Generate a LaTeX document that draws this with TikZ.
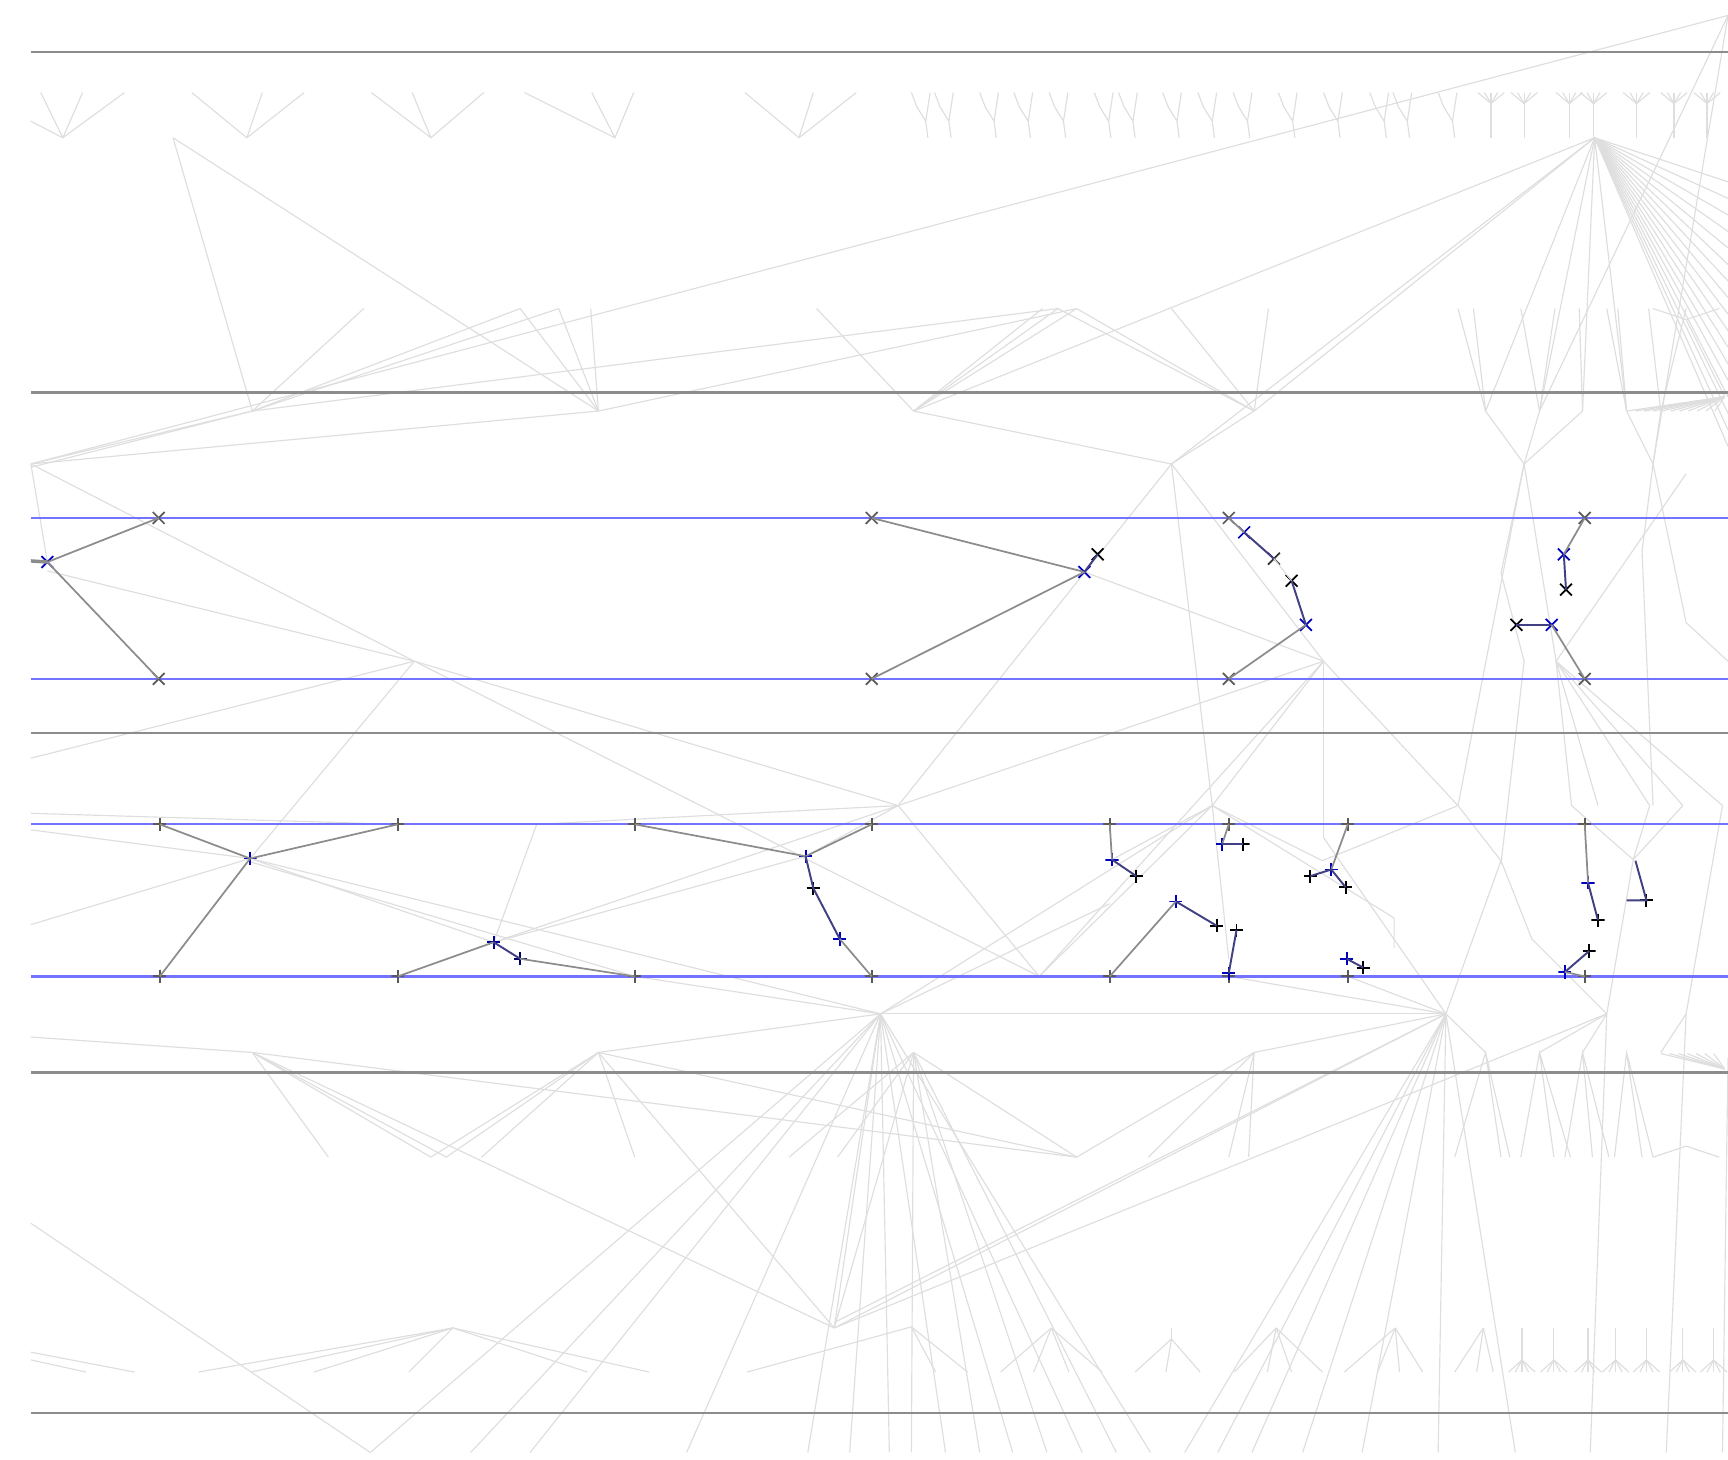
\documentclass[tikz,border=0pt]{standalone}
\usepackage{tikz}
\usetikzlibrary{shapes.misc}

\tikzset{
  rule/.style={draw=black!45, line width=0.65pt},
  track/.style={draw=blue!55, line width=0.6pt},
  faint/.style={draw=gray!26, line width=0.3pt},
  link/.style={draw=black!45, line width=0.45pt},
  bond/.style={draw=blue!35!black!75, line width=0.5pt},
  xm/.style={cross out, draw=#1, line width=0.45pt, minimum size=2.6pt, inner sep=0pt},
  xm/.default=black!65,
  pm/.style={minimum size=3.4pt, inner sep=0pt,
    path picture={\draw[#1, line width=0.5pt]
      (path picture bounding box.north) -- (path picture bounding box.south)
      (path picture bounding box.west) -- (path picture bounding box.east);}},
  pm/.default=black!65,
}

\begin{document}
\begin{tikzpicture}[x=0.1mm, y=-0.1mm]
    \useasboundingbox (0,0) rectangle (1568,1324);
    \clip (0,0) rectangle (1568,1324);

    % hubs of the faint network
    \coordinate (h-a) at (1447,125);
    \coordinate (h-b) at (1568,14);
    \coordinate (h-c) at (28,421);
    \coordinate (h-d) at (229,373);
    \coordinate (h-e) at (543,373);
    \coordinate (h-f) at (829,373);
    \coordinate (h-g) at (1138,373);
    \coordinate (h-h) at (1063,421);
    \coordinate (h-i) at (376,600);
    \coordinate (h-j) at (1201,600);
    \coordinate (h-k) at (815,731);
    \coordinate (h-l) at (1100,731);
    \coordinate (h-m) at (1323,731);
    \coordinate (h-n) at (799,920);
    \coordinate (h-o) at (1312,920);
    \coordinate (h-p) at (229,955);
    \coordinate (h-q) at (543,955);
    \coordinate (h-r) at (829,955);
    \coordinate (h-s) at (1138,955);
    \coordinate (h-t) at (757,1205);
    \coordinate (h-u) at (411,1205);
    \coordinate (h-v) at (1565,360);
    \coordinate (h-w) at (1565,970);
    \coordinate (h-x) at (1383,421);
    \coordinate (h-y) at (1412,600);
    \coordinate (h-z) at (1458,920);

    % top row of small trees
    \foreach \v/\a/\b/\c in {57/37/75/113, 224/174/238/276, 391/337/374/439,
                             558/476/537/575, 725/676/738/777}
        \draw[faint] (\a,84) -- (\v,125) -- (\c,84) (\b,84) -- (\v,125);
    \draw[faint] (28,110) -- (57,125);
    \foreach \s in {842,863,904,935,967,1008,1030,1070,1102,1134,1175,1216,1258,1279,1320}
        \draw[faint] (\s,125) -- (\s-2,110) -- (\s-10,97) -- (\s-15,84)
                     (\s-2,110) -- (\s+2,84);
    \foreach \s in {1353,1383,1424,1446,1485,1519,1549} {
        \draw[faint] (\s,125) -- (\s,94);
        \foreach \d in {-12,-6,0,6,12}
            \draw[faint] (\s,94) -- (\s+\d,84);
    }

    % upper faint web
    \draw[faint] (157,125) -- (h-d);
    \draw[faint] (157,125) -- (h-e);
    \draw[faint] (h-c) -- (h-b);
    \draw[faint] (h-c) -- (h-d);
    \draw[faint] (28,424) -- (h-d);
    \draw[faint] (h-c) -- (h-e);
    \foreach \x in {330,472,507}
        \draw[faint] (\x,280) -- (h-d);
    \foreach \x in {472,507,536}
        \draw[faint] (\x,280) -- (h-e);
    \draw[faint] (h-d) -- (960,280);
    \draw[faint] (h-e) -- (977,280);
    \foreach \x in {741,946,960,977}
        \draw[faint] (\x,280) -- (h-f);
    \foreach \x in {960,977,1063,1151}
        \draw[faint] (\x,280) -- (h-g);
    \draw[faint] (h-f) -- (h-a);
    \draw[faint] (h-g) -- (h-a);
    \draw[faint] (h-h) -- (h-a);
    \draw[faint] (h-f) -- (h-h) -- (h-g);
    \foreach \y in {165,180,...,405}
        \draw[faint] (h-a) -- (1568,\y);
    \foreach \x in {1348,1397,1436,1476}
        \draw[faint] (h-a) -- (\x,373);
    \draw[faint] (h-b) -- (1397,373);
    \draw[faint] (h-b) -- (1500,421);
    \foreach \t/\v in {1323/1348, 1337/1348, 1380/1397, 1411/1397, 1433/1436,
                       1458/1476, 1468/1476, 1496/1507, 1530/1507}
        \draw[faint] (\t,280) -- (\v,373);
    \foreach \x in {1348,1397,1436}
        \draw[faint] (\x,373) -- (h-x);
    \draw[faint] (1476,373) -- (1500,421) -- (1507,373);
    \foreach \x in {1476,1484,...,1556}
        \draw[faint] (\x,373) -- (h-v);
    \draw[faint] (1530,290) -- (h-v);
    \draw[faint] (1500,280) -- (1530,290) -- (1560,280);

    % middle faint web
    \draw[faint] (h-c) -- (43,510);
    \draw[faint] (h-c) -- (h-i);
    \draw[faint] (43,518) -- (h-i);
    \draw[faint] (h-i) -- (28,688);
    \draw[faint] (h-i) -- (227,779);
    \draw[faint] (h-i) -- (943,886);
    \draw[faint] (h-i) -- (h-k);
    \draw[faint] (h-h) -- (h-k);
    \draw[faint] (h-h) -- (h-l);
    \draw[faint] (h-h) -- (h-j);
    \draw[faint] (984,519) -- (h-j);
    \draw[faint] (h-j) -- (h-k);
    \draw[faint] (h-j) -- (h-l);
    \draw[faint] (h-j) -- (1201,760);
    \draw[faint] (h-j) -- (h-m);
    \draw[faint] (h-j) -- (943,886);
    \draw[faint] (h-x) -- (1362,520) -- (1383,600);
    \draw[faint] (h-x) -- (h-y);
    \draw[faint] (h-x) -- (h-m);
    \draw[faint] (1383,600) -- (1362,784);
    \foreach \x in {1426,1450,1497,1527,1563}
        \draw[faint] (h-y) -- (\x,731);
    \draw[faint] (h-y) -- (1530,430);
    \draw[faint] (1500,421) -- (1530,565) -- (1568,600);
    \draw[faint] (1500,421) -- (1490,500) -- (1500,731);

    % lower faint web
    \draw[faint] (28,738) -- (361,748);
    \draw[faint] (28,753) -- (227,779);
    \draw[faint] (28,839) -- (227,779);
    \draw[faint] (227,779) -- (448,855);
    \draw[faint] (227,782) -- (576,886);
    \draw[faint] (227,779) -- (h-n);
    \draw[faint] (448,855) -- (731,777);
    \draw[faint] (448,855) -- (h-k);
    \draw[faint] (448,855) -- (487,748) -- (h-k);
    \draw[faint] (h-k) -- (731,777);
    \draw[faint] (h-k) -- (943,886);
    \draw[faint] (h-n) -- (h-l);
    \draw[faint] (h-n) -- (1007,820);
    \draw[faint] (943,886) -- (h-l);
    \draw[faint] (h-l) -- (1009,780);
    \draw[faint] (h-l) -- (1200,781);
    \draw[faint] (h-l) -- (1265,833) -- (1265,860);
    \draw[faint] (h-l) -- (1115,870);
    \draw[faint] (h-m) -- (1200,781);
    \draw[faint] (h-m) -- (1362,781) -- (1390,852) -- (h-z);
    \draw[faint] (1362,781) -- (h-o);
    \draw[faint] (1201,760) -- (h-o);
    \draw[faint] (1115,886) -- (h-o);
    \draw[faint] (1223,886) -- (h-o);
    \draw[faint] (1426,731) -- (1482,780) -- (1527,731);
    \draw[faint] (1497,731) -- (1482,780) -- (h-z);
    \draw[faint] (1563,731) -- (1530,920);
    \draw[faint] (h-n) -- (576,886);
    \draw[faint] (h-n) -- (h-o);

    % bottom faint web
    \draw[faint] (28,941) -- (h-p);
    \foreach \x in {298,391,405}
        \draw[faint] (h-p) -- (\x,1050);
    \draw[faint] (h-p) -- (h-t);
    \draw[faint] (h-p) -- (977,1050);
    \foreach \x in {391,405,437,576}
        \draw[faint] (h-q) -- (\x,1050);
    \draw[faint] (h-q) -- (h-t);
    \draw[faint] (h-q) -- (977,1050);
    \draw[faint] (h-q) -- (h-n);
    \foreach \x in {716,760}
        \draw[faint] (h-r) -- (\x,1050);
    \draw[faint] (h-r) -- (977,1050);
    \foreach \x in {977,1042,1115,1133}
        \draw[faint] (h-s) -- (\x,1050);
    \draw[faint] (h-s) -- (h-o);
    \foreach \x in {336,427,481,623,733,771,807,858,919,982,1044}
        \draw[faint] (h-n) -- (\x,1318);
    \foreach \x in {827,889,950,1013}
        \draw[faint] (h-r) -- (\x,1318);
    \foreach \x in {1075,1105,1136,1182,1236,1305,1375}
        \draw[faint] (h-o) -- (\x,1318);
    \draw[faint] (h-z) -- (1443,1318);
    \draw[faint] (1530,920) -- (1512,1318);
    \draw[faint] (1568,960) -- (1563,1318);
    \draw[faint] (28,1110) -- (336,1318);
    \draw[faint] (h-t) -- (h-o);
    \draw[faint] (757,1200) -- (h-o);
    \draw[faint] (h-t) -- (h-z);
    \draw[faint] (h-t) -- (h-n);
    \draw[faint] (h-t) -- (h-r);
    \foreach \v/\a/\b/\c in {1348/1320/1362/1370, 1397/1380/1410/1425,
                             1436/1420/1445/1460, 1476/1465/1490/1500}
        \draw[faint] (\a,1050) -- (\v,955) -- (\c,1050) (\b,1050) -- (\v,955);
    \draw[faint] (h-o) -- (1348,955);
    \draw[faint] (h-z) -- (1397,955);
    \draw[faint] (h-z) -- (1436,955);
    \draw[faint] (1530,920) -- (1507,955);
    \foreach \x in {1507,1515,...,1555}
        \draw[faint] (\x,956) -- (h-w);
    \draw[faint] (1530,1040) -- (1500,1050) (1530,1040) -- (1560,1050);

    % bottom row of small trees
    \foreach \x in {180,228,285,371,533,589}
        \draw[faint] (h-u) -- (\x,1245);
    \draw[faint] (28,1227) -- (122,1245);
    \draw[faint] (28,1234) -- (78,1245);
    \foreach \x in {678,849,878}
        \draw[faint] (827,1204) -- (\x,1245);
    \foreach \x in {908,938,970,1000}
        \draw[faint] (954,1205) -- (\x,1245);
    \draw[faint] (1063,1205) -- (1063,1215);
    \foreach \x in {1030,1058,1089}
        \draw[faint] (1063,1215) -- (\x,1245);
    \foreach \x in {1120,1150,1172,1200}
        \draw[faint] (1158,1205) -- (\x,1245);
    \foreach \x in {1220,1250,1270,1291}
        \draw[faint] (1266,1205) -- (\x,1245);
    \foreach \x in {1320,1340,1355}
        \draw[faint] (1346,1205) -- (\x,1245);
    \foreach \s in {1381,1410,1441,1466,1494,1527,1555} {
        \draw[faint] (\s,1205) -- (\s,1234);
        \foreach \d in {-12,-6,0,6,12}
            \draw[faint] (\s,1234) -- (\s+\d,1245);
    }

    % rules and tracks
    \foreach \y in {47,356,665,973,1282}
        \draw[rule] (28,\y) -- (1568,\y);
    \foreach \y in {470,616,748,886}
        \draw[track] (28,\y) -- (1568,\y);

    % upper band markers
    \foreach \n/\x in {a/144, b/791, c/1115, d/1438} {
        \node[xm] (u\n-t) at (\x,470) {};
        \node[xm] (u\n-b) at (\x,616) {};
    }
    \node[xm=blue!75!black] (ua-m) at (43,510) {};
    \node[xm=blue!75!black] (ub-m) at (984,519) {};
    \node[xm=black] (ub-k) at (996,503) {};
    \node[xm=blue!75!black] (uc-1) at (1129,483) {};
    \node[xm=black!80] (uc-2) at (1156,507) {};
    \node[xm=black] (uc-3) at (1172,527) {};
    \node[xm=blue!75!black] (uc-4) at (1185,567) {};
    \node[xm=blue!75!black] (ud-1) at (1419,503) {};
    \node[xm=black] (ud-2) at (1421,535) {};
    \node[xm=black] (ud-3) at (1376,567) {};
    \node[xm=blue!75!black] (ud-4) at (1408,567) {};

    \draw[link] (ua-t.center) -- (ua-m.center) -- (ua-b.center);
    \draw[link, line width=0.9pt] (28,509) -- (ua-m.center);
    \draw[link] (ub-t.center) -- (ub-m.center) -- (ub-b.center);
    \draw[bond] (ub-m.center) -- (ub-k.center);
    \draw[link] (uc-t.center) -- (uc-1.center);
    \draw[bond] (uc-1.center) -- (uc-2.center);
    \draw[faint] (uc-2.center) -- (uc-3.center);
    \draw[bond] (uc-3.center) -- (uc-4.center);
    \draw[link] (uc-4.center) -- (uc-b.center);
    \draw[link] (ud-t.center) -- (ud-1.center);
    \draw[bond] (ud-1.center) -- (ud-2.center);
    \draw[bond] (ud-3.center) -- (ud-4.center);
    \draw[link] (ud-4.center) -- (ud-b.center);

    % lower band markers
    \foreach \n/\x in {a/145, b/361, c/576, d/791, e/1007, f/1115, g/1223, h/1438} {
        \node[pm] (l\n-t) at (\x,748) {};
        \node[pm] (l\n-b) at (\x,886) {};
    }
    \node[pm=blue!75!black] (la-m) at (227,779) {};
    \node[pm=blue!60!black] (lb-1) at (448,855) {};
    \node[pm=blue!40!black] (lb-2) at (472,870) {};
    \node[pm=blue!75!black] (lc-1) at (731,777) {};
    \node[pm=black] (lc-2) at (738,806) {};
    \node[pm=blue!75!black] (lc-3) at (762,852) {};
    \node[pm=blue!75!black] (le-1) at (1009,780) {};
    \node[pm=black] (le-2) at (1031,795) {};
    \node[pm=blue!75!black] (le-3) at (1067,818) {};
    \node[pm=black] (le-4) at (1104,840) {};
    \node[pm=blue!75!black] (lf-1) at (1109,766) {};
    \node[pm=black] (lf-2) at (1128,766) {};
    \node[pm=black] (lf-3) at (1122,844) {};
    \node[pm=blue!75!black] (lf-4) at (1115,883) {};
    \node[pm=blue!75!black] (lg-1) at (1208,789) {};
    \node[pm=black] (lg-2) at (1189,795) {};
    \node[pm=black] (lg-3) at (1221,805) {};
    \node[pm=blue!75!black] (lg-4) at (1222,870) {};
    \node[pm=black] (lg-5) at (1237,878) {};
    \node[pm=blue!75!black] (lh-1) at (1441,801) {};
    \node[pm=black] (lh-2) at (1450,835) {};
    \node[pm=blue!75!black] (lh-3) at (1420,882) {};
    \node[pm=black] (lh-4) at (1442,863) {};
    \node[pm=black] (lh-5) at (1494,817) {};
    \coordinate (lh-6) at (1484,781);
    \coordinate (lh-7) at (1476,817);

    \draw[link] (la-t.center) -- (la-m.center) -- (lb-t.center);
    \draw[link] (la-m.center) -- (la-b.center);
    \draw[link] (lb-b.center) -- (lb-1.center);
    \draw[bond] (lb-1.center) -- (lb-2.center);
    \draw[link] (lb-2.center) -- (lc-b.center);
    \draw[link] (lc-t.center) -- (lc-1.center) -- (ld-t.center);
    \draw[bond] (lc-1.center) -- (lc-2.center) -- (lc-3.center);
    \draw[link] (lc-3.center) -- (ld-b.center);
    \draw[link] (le-t.center) -- (le-1.center);
    \draw[bond] (le-1.center) -- (le-2.center);
    \draw[link] (le-b.center) -- (le-3.center);
    \draw[bond] (le-3.center) -- (le-4.center);
    \draw[link] (lf-t.center) -- (lf-1.center);
    \draw[bond] (lf-1.center) -- (lf-2.center);
    \draw[bond] (lf-3.center) -- (lf-4.center);
    \draw[link] (lg-t.center) -- (lg-1.center);
    \draw[bond] (lg-2.center) -- (lg-1.center) -- (lg-3.center);
    \draw[bond] (lg-4.center) -- (lg-5.center);
    \draw[link] (lh-t.center) -- (lh-1.center);
    \draw[bond] (lh-1.center) -- (lh-2.center);
    \draw[bond] (lh-3.center) -- (lh-4.center);
    \draw[link] (lh-3.center) -- (lh-b.center);
    \draw[bond] (lh-6) -- (lh-5.center) -- (lh-7);
\end{tikzpicture}
\end{document}
